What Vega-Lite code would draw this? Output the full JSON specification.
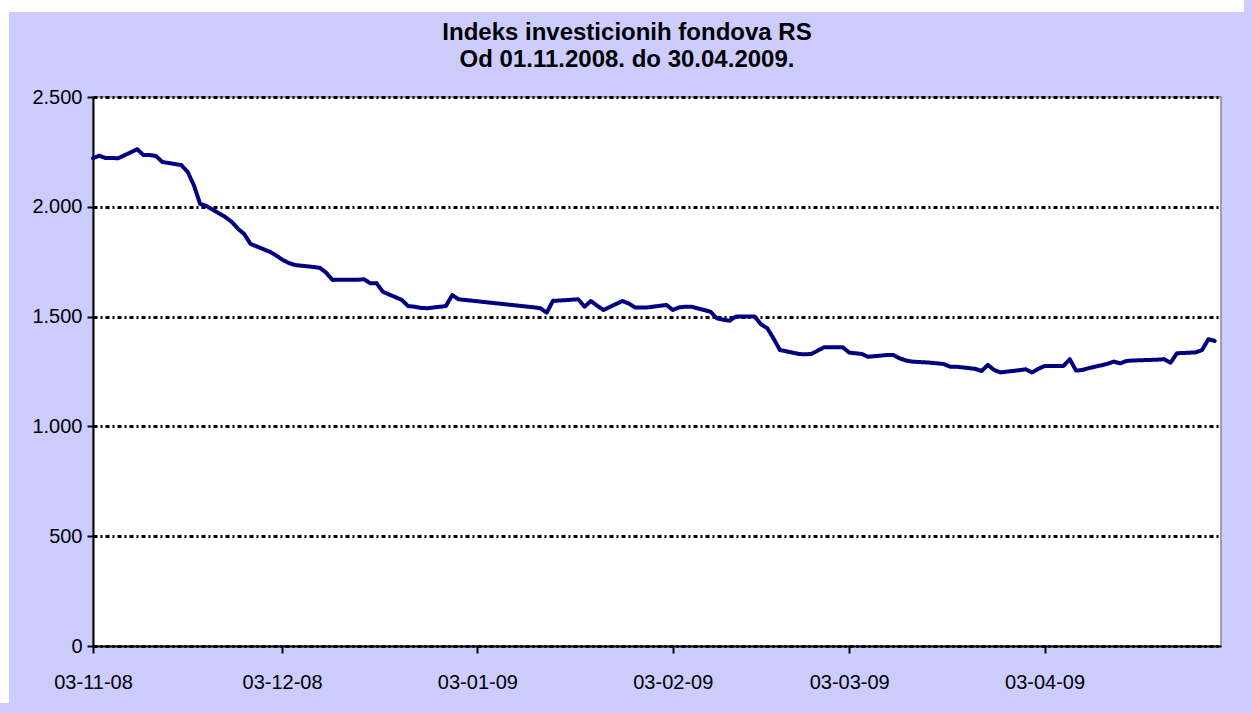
{
  "$schema": "https://vega.github.io/schema/vega-lite/v6.json",
  "autosize": {"type": "none"},
  "padding": {"left": 93, "top": 97, "right": 1159, "bottom": 616},
  "background": "#CCCCFF",
  "bounds": "flush",
  "hconcat": [
    {
      "width": 1128,
      "height": 549,
      "title": {
        "text": ["Indeks investicionih fondova RS", "Od 01.11.2008. do 30.04.2009."],
        "font": "Liberation Sans",
        "fontSize": 24,
        "fontWeight": "bold",
        "color": "black",
        "anchor": "middle",
        "frame": "group",
        "dx": -30,
        "lineHeight": 27,
        "offset": 15
      },
      "data": {
        "values": [
          {"date": "2008-11-03", "value": 2221},
          {"date": "2008-11-04", "value": 2233},
          {"date": "2008-11-05", "value": 2222},
          {"date": "2008-11-06", "value": 2222},
          {"date": "2008-11-07", "value": 2221},
          {"date": "2008-11-10", "value": 2262},
          {"date": "2008-11-11", "value": 2236},
          {"date": "2008-11-12", "value": 2236},
          {"date": "2008-11-13", "value": 2231},
          {"date": "2008-11-14", "value": 2204},
          {"date": "2008-11-17", "value": 2190},
          {"date": "2008-11-18", "value": 2160},
          {"date": "2008-11-19", "value": 2099},
          {"date": "2008-11-20", "value": 2013},
          {"date": "2008-11-21", "value": 2004},
          {"date": "2008-11-24", "value": 1953},
          {"date": "2008-11-25", "value": 1932},
          {"date": "2008-11-26", "value": 1900},
          {"date": "2008-11-27", "value": 1876},
          {"date": "2008-11-28", "value": 1831},
          {"date": "2008-12-01", "value": 1796},
          {"date": "2008-12-02", "value": 1780},
          {"date": "2008-12-03", "value": 1760},
          {"date": "2008-12-04", "value": 1745},
          {"date": "2008-12-05", "value": 1735},
          {"date": "2008-12-08", "value": 1726},
          {"date": "2008-12-09", "value": 1722},
          {"date": "2008-12-10", "value": 1700},
          {"date": "2008-12-11", "value": 1667},
          {"date": "2008-12-12", "value": 1668},
          {"date": "2008-12-15", "value": 1668},
          {"date": "2008-12-16", "value": 1670},
          {"date": "2008-12-17", "value": 1652},
          {"date": "2008-12-18", "value": 1652},
          {"date": "2008-12-19", "value": 1613},
          {"date": "2008-12-22", "value": 1576},
          {"date": "2008-12-23", "value": 1548},
          {"date": "2008-12-24", "value": 1545},
          {"date": "2008-12-25", "value": 1540},
          {"date": "2008-12-26", "value": 1538},
          {"date": "2008-12-29", "value": 1548},
          {"date": "2008-12-30", "value": 1598},
          {"date": "2008-12-31", "value": 1579},
          {"date": "2009-01-12", "value": 1542},
          {"date": "2009-01-13", "value": 1538},
          {"date": "2009-01-14", "value": 1518},
          {"date": "2009-01-15", "value": 1572},
          {"date": "2009-01-16", "value": 1573},
          {"date": "2009-01-19", "value": 1579},
          {"date": "2009-01-20", "value": 1545},
          {"date": "2009-01-21", "value": 1571},
          {"date": "2009-01-22", "value": 1550},
          {"date": "2009-01-23", "value": 1530},
          {"date": "2009-01-26", "value": 1571},
          {"date": "2009-01-27", "value": 1560},
          {"date": "2009-01-28", "value": 1542},
          {"date": "2009-01-29", "value": 1542},
          {"date": "2009-01-30", "value": 1542},
          {"date": "2009-02-02", "value": 1553},
          {"date": "2009-02-03", "value": 1530},
          {"date": "2009-02-04", "value": 1542},
          {"date": "2009-02-05", "value": 1545},
          {"date": "2009-02-06", "value": 1545},
          {"date": "2009-02-09", "value": 1522},
          {"date": "2009-02-10", "value": 1492},
          {"date": "2009-02-11", "value": 1486},
          {"date": "2009-02-12", "value": 1481},
          {"date": "2009-02-13", "value": 1500},
          {"date": "2009-02-16", "value": 1500},
          {"date": "2009-02-17", "value": 1465},
          {"date": "2009-02-18", "value": 1447},
          {"date": "2009-02-19", "value": 1400},
          {"date": "2009-02-20", "value": 1348},
          {"date": "2009-02-23", "value": 1330},
          {"date": "2009-02-24", "value": 1328},
          {"date": "2009-02-25", "value": 1330},
          {"date": "2009-02-26", "value": 1345},
          {"date": "2009-02-27", "value": 1360},
          {"date": "2009-03-02", "value": 1360},
          {"date": "2009-03-03", "value": 1336},
          {"date": "2009-03-04", "value": 1333},
          {"date": "2009-03-05", "value": 1330},
          {"date": "2009-03-06", "value": 1317},
          {"date": "2009-03-09", "value": 1325},
          {"date": "2009-03-10", "value": 1325},
          {"date": "2009-03-11", "value": 1310},
          {"date": "2009-03-12", "value": 1300},
          {"date": "2009-03-13", "value": 1295},
          {"date": "2009-03-16", "value": 1290},
          {"date": "2009-03-17", "value": 1287},
          {"date": "2009-03-18", "value": 1284},
          {"date": "2009-03-19", "value": 1272},
          {"date": "2009-03-20", "value": 1272},
          {"date": "2009-03-23", "value": 1262},
          {"date": "2009-03-24", "value": 1252},
          {"date": "2009-03-25", "value": 1280},
          {"date": "2009-03-26", "value": 1257},
          {"date": "2009-03-27", "value": 1246},
          {"date": "2009-03-30", "value": 1256},
          {"date": "2009-03-31", "value": 1260},
          {"date": "2009-04-01", "value": 1246},
          {"date": "2009-04-02", "value": 1262},
          {"date": "2009-04-03", "value": 1275},
          {"date": "2009-04-06", "value": 1275},
          {"date": "2009-04-07", "value": 1306},
          {"date": "2009-04-08", "value": 1254},
          {"date": "2009-04-09", "value": 1257},
          {"date": "2009-04-10", "value": 1265},
          {"date": "2009-04-13", "value": 1285},
          {"date": "2009-04-14", "value": 1295},
          {"date": "2009-04-15", "value": 1287},
          {"date": "2009-04-16", "value": 1298},
          {"date": "2009-04-17", "value": 1300},
          {"date": "2009-04-21", "value": 1304},
          {"date": "2009-04-22", "value": 1306},
          {"date": "2009-04-23", "value": 1290},
          {"date": "2009-04-24", "value": 1333},
          {"date": "2009-04-27", "value": 1337},
          {"date": "2009-04-28", "value": 1348},
          {"date": "2009-04-29", "value": 1397},
          {"date": "2009-04-30", "value": 1389}
        ]
      },
      "mark": {"type": "line", "strokeWidth": 4, "strokeJoin": "round", "strokeCap": "round"},
      "encoding": {
        "x": {
          "field": "date",
          "type": "temporal",
          "scale": {
            "type": "utc",
            "domain": [
              {"year": 2008, "month": 11, "date": 3, "utc": true},
              {"year": 2009, "month": 5, "date": 1, "utc": true}
            ]
          },
          "axis": {
            "title": null,
            "values": [
              {"year": 2008, "month": 11, "date": 3, "utc": true},
              {"year": 2008, "month": 12, "date": 3, "utc": true},
              {"year": 2009, "month": 1, "date": 3, "utc": true},
              {"year": 2009, "month": 2, "date": 3, "utc": true},
              {"year": 2009, "month": 3, "date": 3, "utc": true},
              {"year": 2009, "month": 4, "date": 3, "utc": true}
            ],
            "labelExpr": "utcFormat(datum.value, '%d-%m-%y')",
            "grid": false,
            "domainColor": "black",
            "domainWidth": 2,
            "tickColor": "black",
            "tickWidth": 2,
            "tickSize": 7,
            "labelFont": "Liberation Sans",
            "labelFontSize": 20,
            "labelColor": "black",
            "labelPadding": 19,
            "labelFlush": false,
            "labelOverlap": false
          }
        },
        "y": {
          "field": "value",
          "type": "quantitative",
          "scale": {"domain": [0, 2500], "nice": false},
          "axis": {
            "title": null,
            "values": [0, 500, 1000, 1500, 2000, 2500],
            "labelExpr": "replace(format(datum.value, ','), ',', '.')",
            "grid": true,
            "gridColor": "black",
            "gridWidth": 3,
            "gridDash": [4, 3, 2, 3],
            "domainColor": "black",
            "domainWidth": 2,
            "tickColor": "black",
            "tickWidth": 2,
            "tickSize": 6,
            "labelFont": "Liberation Sans",
            "labelFontSize": 20,
            "labelColor": "black",
            "labelPadding": 5,
            "labelFlush": false
          }
        },
        "color": {
          "datum": "Indeks",
          "type": "nominal",
          "scale": {"range": ["#000080"]},
          "legend": {
            "title": null,
            "orient": "none",
            "legendX": -91,
            "legendY": -92,
            "fillColor": "transparent",
            "strokeColor": "white",
            "padding": 2000,
            "labelExpr": "''"
          }
        },
        "strokeDash": {
          "datum": "Serija",
          "type": "nominal",
          "scale": {"range": [[1, 0]]},
          "legend": {
            "title": null,
            "orient": "none",
            "legendX": -858,
            "legendY": -1398,
            "fillColor": "transparent",
            "strokeColor": "#CCCCFF",
            "padding": 1000,
            "labelExpr": "''"
          }
        }
      }
    }
  ],
  "config": {
    "view": {"fill": "white", "stroke": "#888888", "strokeWidth": 1.5},
    "legend": {"strokeWidth": 14}
  }
}
